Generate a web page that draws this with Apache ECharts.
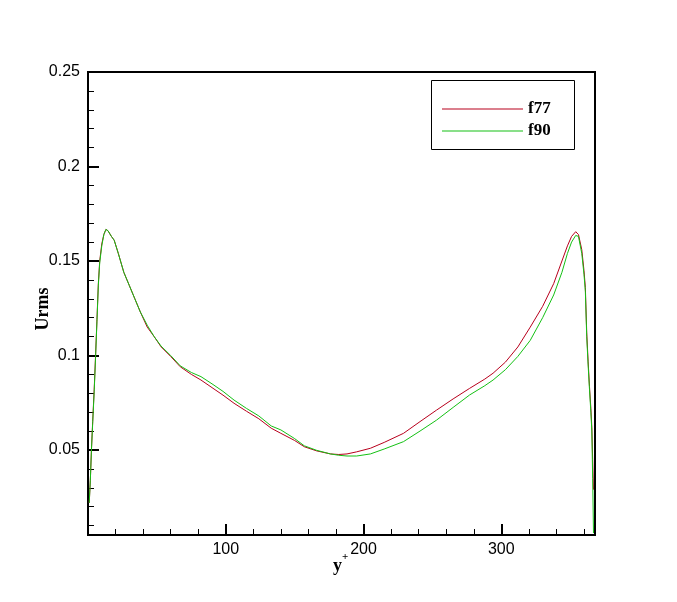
<!DOCTYPE html>
<html>
<head>
<meta charset="utf-8">
<script src="https://cdn.jsdelivr.net/npm/echarts@6/dist/echarts.min.js"></script>
<style>html,body{margin:0;padding:0;background:#fff;}#c{width:677px;height:602px;}</style>
</head>
<body>
<div id="c"></div>
<script>
// y+ positions (shared by both series)
var yPlus = [0.9, 1.7, 2.5, 3.4, 4.5, 5.5, 6.5, 7.5, 8.5, 10, 11.5, 13, 14.5, 17, 19, 22, 26, 30, 34, 38, 43, 48, 53, 60, 67, 75, 82, 90, 98, 106, 115, 124, 133, 140, 150, 157, 166, 176, 182, 188, 195, 205, 215, 229, 241, 253, 265, 277, 288, 294, 303, 312, 321, 330, 338, 344, 348, 351, 354, 356, 358.4, 360, 361, 362, 363, 364, 365, 365.7, 366.3, 366.9];
var f77 = [0.022, 0.034, 0.050, 0.065, 0.082, 0.100, 0.119, 0.138, 0.150, 0.159, 0.164, 0.1667, 0.166, 0.163, 0.161, 0.154, 0.144, 0.137, 0.130, 0.123, 0.115, 0.110, 0.1046, 0.0995, 0.094, 0.090, 0.087, 0.083, 0.079, 0.0747, 0.0705, 0.0665, 0.0615, 0.0588, 0.0550, 0.0517, 0.0495, 0.0479, 0.0476, 0.0479, 0.0490, 0.0509, 0.0540, 0.0588, 0.0650, 0.0711, 0.0770, 0.0826, 0.0875, 0.0906, 0.0965, 0.1045, 0.115, 0.126, 0.138, 0.150, 0.158, 0.163, 0.1655, 0.164, 0.156, 0.145, 0.136, 0.112, 0.097, 0.0835, 0.072, 0.062, 0.045, 0.029];
var f90 = [0.022, 0.034, 0.050, 0.064, 0.081, 0.099, 0.118, 0.137, 0.149, 0.158, 0.164, 0.1667, 0.166, 0.163, 0.161, 0.154, 0.144, 0.137, 0.130, 0.123, 0.116, 0.110, 0.105, 0.100, 0.0945, 0.091, 0.0888, 0.085, 0.081, 0.0764, 0.072, 0.068, 0.0627, 0.0606, 0.0560, 0.0522, 0.0498, 0.0479, 0.0472, 0.0468, 0.0468, 0.0479, 0.0505, 0.0544, 0.0600, 0.0658, 0.0725, 0.0791, 0.0840, 0.0870, 0.0925, 0.0995, 0.108, 0.120, 0.132, 0.144, 0.154, 0.160, 0.1635, 0.1630, 0.154, 0.143, 0.134, 0.110, 0.095, 0.082, 0.070, 0.060, 0.035, 0.006];
var seriesNames = ['f77', 'f90'];
var xMajor = [100, 200, 300];
var xMinor = [20, 40, 60, 80, 120, 140, 160, 180, 220, 240, 260, 280, 320, 340, 360];
var yMajor = [0.05, 0.1, 0.15, 0.2, 0.25];
var yMinor = [0.01, 0.02, 0.03, 0.04, 0.06, 0.07, 0.08, 0.09, 0.11, 0.12, 0.13, 0.14, 0.16, 0.17, 0.18, 0.19, 0.21, 0.22, 0.23, 0.24];

function pairs(xs, ys) { return xs.map(function (x, i) { return [x, ys[i]]; }); }

var chart = echarts.init(document.getElementById('c'));
var labelFont = {color: '#000', fontFamily: 'Liberation Sans, Arial, sans-serif', fontSize: 16};
var serif = 'Liberation Serif, Times New Roman, serif';
function xAx(vals, len, w, labels) {
  return {type: 'value', min: 0, max: 368, position: 'bottom',
    axisLine: {show: labels, lineStyle: {color: '#000', width: 2}},
    axisTick: {show: true, inside: true, length: len, customValues: vals, lineStyle: {color: '#000', width: w}},
    axisLabel: labels ? Object.assign({show: true, customValues: vals, margin: 7}, labelFont) : {show: false},
    splitLine: {show: false}};
}
function yAx(vals, len, w, labels) {
  return {type: 'value', min: 0.005, max: 0.25, position: 'left',
    axisLine: {show: labels, lineStyle: {color: '#000', width: 2}},
    axisTick: {show: true, inside: true, length: len, customValues: vals, lineStyle: {color: '#000', width: w}},
    axisLabel: labels ? Object.assign({show: true, customValues: vals, margin: 8, formatter: function (v) { return String(+v.toFixed(3)); }}, labelFont) : {show: false},
    splitLine: {show: false}};
}
var redC = '#b8001c', greenC = '#14c014';
chart.setOption({
  animation: false,
  backgroundColor: '#fff',
  grid: {left: 88, top: 72, right: 82, bottom: 67, show: true, borderColor: '#000', borderWidth: 2, backgroundColor: 'transparent'},
  xAxis: [xAx(xMajor, 11, 2, true), xAx(xMinor, 6, 1, false)],
  yAxis: [yAx(yMajor, 11, 2, true), yAx(yMinor, 6, 1, false)],
  legend: {
    data: seriesNames, orient: 'vertical', left: 442, top: 99, padding: 0,
    itemWidth: 81, itemHeight: 1, itemGap: 2, icon: 'rect',
    textStyle: {color: '#000', fontFamily: serif, fontWeight: 'bold', fontSize: 17, lineHeight: 20}
  },
  series: [
    {name: seriesNames[0], type: 'line', data: pairs(yPlus, f77), showSymbol: false, symbol: 'none',
      lineStyle: {color: redC, width: 1}, itemStyle: {color: redC}},
    {name: seriesNames[1], type: 'line', data: pairs(yPlus, f90), showSymbol: false, symbol: 'none',
      lineStyle: {color: greenC, width: 1}, itemStyle: {color: greenC}}
  ],
  graphic: [
    {type: 'rect', shape: {x: 431.5, y: 80.5, width: 143, height: 69}, style: {fill: 'none', stroke: '#000', lineWidth: 1}, z: 10},
    {type: 'text', x: 43, y: 309, rotation: Math.PI / 2, style: {text: 'Urms', fill: '#000', font: 'bold 18px ' + serif, textAlign: 'center', textVerticalAlign: 'middle'}},
    {type: 'text', x: 333, y: 557, style: {text: 'y', fill: '#000', font: 'bold 18px ' + serif}},
    {type: 'text', x: 342, y: 552, style: {text: '+', fill: '#000', font: 'bold 11px ' + serif}}
  ]
});
</script>
</body>
</html>
